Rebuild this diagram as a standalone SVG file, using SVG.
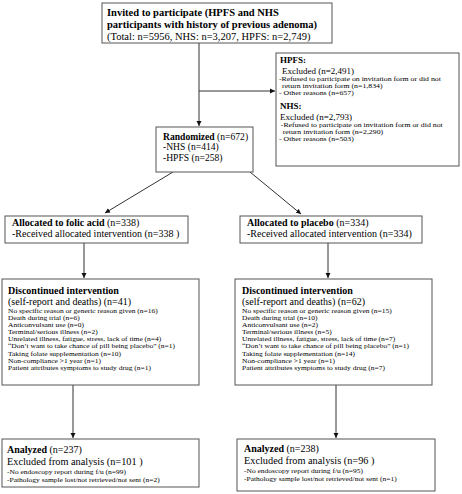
<svg xmlns="http://www.w3.org/2000/svg" width="462" height="494" viewBox="0 0 462 494">
<style>
text{font-family:"Liberation Serif","Times New Roman",serif;fill:#000}
.b{font-weight:bold}
.box{fill:#fff;stroke:#555;stroke-width:1}
.s{font-size:6.4px}
.m{font-size:10px}
.l{font-size:10.5px}
.ln{stroke:#333;stroke-width:1;fill:none}
</style>
<defs>
<marker id="ar" markerWidth="6" markerHeight="6" refX="5" refY="3" orient="auto" markerUnits="userSpaceOnUse">
<path d="M0,0.5 L5,3 L0,5.5 Z" fill="#111"/>
</marker>
</defs>
<rect width="462" height="494" fill="#fff"/>
<g id="connectors">
<line class="ln" x1="199" y1="43" x2="199" y2="126" marker-end="url(#ar)"/>
<line class="ln" x1="199" y1="91" x2="275" y2="91" marker-end="url(#ar)"/>
<line class="ln" x1="173" y1="172" x2="105" y2="213" marker-end="url(#ar)"/>
<line class="ln" x1="250" y1="172" x2="301" y2="214" marker-end="url(#ar)"/>
<line class="ln" x1="84" y1="243" x2="84" y2="278" marker-end="url(#ar)"/>
<line class="ln" x1="328" y1="243" x2="328" y2="278" marker-end="url(#ar)"/>
<line class="ln" x1="73" y1="385" x2="73" y2="438" marker-end="url(#ar)"/>
<line class="ln" x1="336" y1="385" x2="336" y2="438" marker-end="url(#ar)"/>
</g>
<g id="invited">
<rect class="box" x="102" y="3" width="230" height="40"/>
<text class="l b" x="107" y="16">Invited to participate (HPFS and NHS</text>
<text class="l b" x="107" y="28">participants with history of previous adenoma)</text>
<text class="l" x="107" y="40">(Total: n=5956, NHS: n=3,207, HPFS: n=2,749)</text>
</g>
<g id="excluded">
<rect class="box" x="276" y="53" width="183" height="113"/>
<text class="b" x="280" y="63" font-size="9">HPFS:</text>
<text x="282" y="73.5" font-size="9">Excluded  (n=2,491)</text>
<g transform="translate(279,81) scale(1.22,1)">
<text class="s" x="0" y="0">-Refused to participate on invitation form or did not</text>
<text class="s" x="2.5" y="7">return invitation form (n=1,834)</text>
<text class="s" x="0" y="14">- Other reasons (n=657)</text>
</g>
<text class="b" x="280" y="109" font-size="9">NHS:</text>
<text x="280" y="119.5" font-size="9">Excluded  (n=2,793)</text>
<g transform="translate(279,127) scale(1.22,1)">
<text class="s" x="1.5" y="0">-Refused to participate on invitation form or did not</text>
<text class="s" x="3" y="7">return invitation form (n=2,290)</text>
<text class="s" x="0" y="14">- Other reasons (n=503)</text>
</g>
</g>
<g id="randomized">
<rect class="box" x="156" y="127" width="97" height="45"/>
<text x="163" y="139.5" font-size="9.6"><tspan class="b">Randomized</tspan> (n=672)</text>
<text x="163" y="150" font-size="9.6">-NHS (n=414)</text>
<text x="163" y="160.5" font-size="9.6">-HPFS (n=258)</text>
</g>
<g id="alloc-folic">
<rect class="box" x="5" y="216" width="183" height="27"/>
<text class="m" x="12" y="226"><tspan class="b">Allocated to folic acid</tspan> (n=338)</text>
<text class="m" x="12" y="237">-Received allocated intervention (n=338 )</text>
</g>
<g id="alloc-placebo">
<rect class="box" x="240" y="216" width="182" height="27"/>
<text class="m" x="247" y="226"><tspan class="b">Allocated to placebo</tspan> (n=334)</text>
<text class="m" x="247" y="237">-Received allocated intervention (n=334)</text>
</g>
<g id="disc-folic">
<rect class="box" x="2" y="279" width="197" height="106"/>
<text class="m b" x="8" y="294">Discontinued intervention</text>
<text class="m" x="8" y="305.2">(self-report and deaths) (n=41)</text>
<g transform="translate(8,313) scale(1.17,1)">
<text class="s" x="0" y="0">No specific reason or generic reason given (n=16)</text>
<text class="s" x="0" y="7.1">Death during trial (n=6)</text>
<text class="s" x="0" y="14.2">Anticonvulsant use (n=0)</text>
<text class="s" x="0" y="21.3">Terminal/serious illness (n=2)</text>
<text class="s" x="0" y="28.4">Unrelated illness, fatigue, stress, lack of time (n=4)</text>
<text class="s" x="0" y="35.5">“Don’t want to take chance of pill being placebo” (n=1)</text>
<text class="s" x="0" y="42.6">Taking folate supplementation (n=10)</text>
<text class="s" x="0" y="49.7">Non-compliance &gt;1 year (n=1)</text>
<text class="s" x="0" y="56.8">Patient attributes symptoms to study drug (n=1)</text>
</g>
</g>
<g id="disc-placebo">
<rect class="box" x="235" y="279" width="197" height="106"/>
<text class="m b" x="242" y="294">Discontinued intervention</text>
<text class="m" x="242" y="305.2">(self-report and deaths) (n=62)</text>
<g transform="translate(242,313) scale(1.17,1)">
<text class="s" x="0" y="0">No specific reason or generic reason given (n=15)</text>
<text class="s" x="0" y="7.1">Death during trial (n=10)</text>
<text class="s" x="0" y="14.2">Anticonvulsant use (n=2)</text>
<text class="s" x="0" y="21.3">Terminal/serious illness (n=5)</text>
<text class="s" x="0" y="28.4">Unrelated illness, fatigue, stress, lack of time (n=7)</text>
<text class="s" x="0" y="35.5">“Don’t want to take chance of pill being placebo” (n=1)</text>
<text class="s" x="0" y="42.6">Taking folate supplementation (n=14)</text>
<text class="s" x="0" y="49.7">Non-compliance &gt;1 year (n=1)</text>
<text class="s" x="0" y="56.8">Patient attributes symptoms to study drug (n=7)</text>
</g>
</g>
<g id="analyzed-folic">
<rect class="box" x="2" y="439" width="197" height="48"/>
<text class="m" x="7" y="453"><tspan class="b">Analyzed</tspan> (n=237)</text>
<text x="7" y="465" font-size="10.3">Excluded from analysis (n=101 )</text>
<g transform="translate(7,474) scale(1.17,1)">
<text class="s" x="0" y="0">-No endoscopy report during f/u  (n=99)</text>
<text class="s" x="0" y="8">-Pathology sample lost/not  retrieved/not sent (n=2)</text>
</g>
</g>
<g id="analyzed-placebo">
<rect class="box" x="237" y="439" width="198" height="52"/>
<text class="m" x="244" y="452"><tspan class="b">Analyzed</tspan> (n=238)</text>
<text x="244" y="464" font-size="10.3">Excluded from analysis (n=96 )</text>
<g transform="translate(244,473) scale(1.17,1)">
<text class="s" x="0" y="0">-No endoscopy report during f/u  (n=95)</text>
<text class="s" x="0" y="8">-Pathology sample lost/not  retrieved/not sent (n=1)</text>
</g>
</g>
</svg>
